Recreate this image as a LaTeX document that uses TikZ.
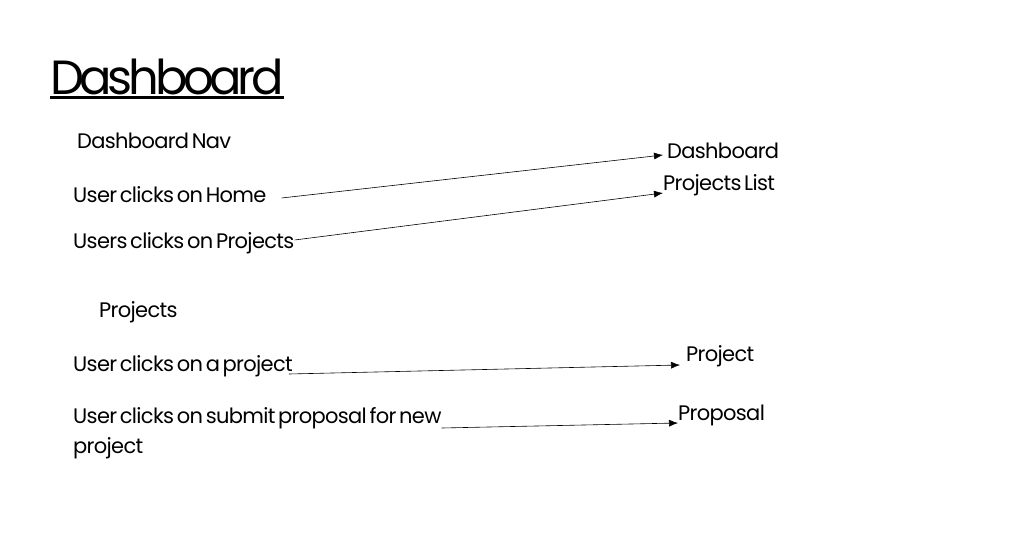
\documentclass[tikz,border=0pt]{standalone}
\usepackage{fontspec}
\setmainfont{Poppins}[LetterSpace=-3.2, WordSpace=0.55]
\newfontfamily\titlefont{Poppins}[LetterSpace=-9, WordSpace=0.55]
\usepackage{tikz}
\usetikzlibrary{positioning, arrows.meta, calc}

\begin{document}
\begin{tikzpicture}[
      x=1pt, y=-1pt,
      title/.style={
        anchor=west,
        inner sep=0pt,
        font=\titlefont\fontsize{48}{60}\selectfont,
      },
      item/.style={
        anchor=west,
        inner sep=0pt,
        font=\fontsize{21}{30}\selectfont,
        align=left,
      },
      link/.style={-{Latex[length=9pt,width=7pt]}, line width=0.6pt},
      ]
      \useasboundingbox (0,0) rectangle (1025,535);
      \node[title] (ttl) at (50,77) {Dashboard};
      \draw[line width=3pt] ([yshift=-2pt]ttl.south west) -- ([yshift=-2pt]ttl.south east);
      % dashboard nav
      \node[item] (nav) at (77,141) {Dashboard Nav};
      \node[item] (home) at (73,195) {User clicks on Home};
      \node[item] (prjs) at (73,243) {Users clicks on Projects};
      \node[item] (dash) at (667,151) {Dashboard};
      \node[item] (list) at (663,185) {Projects List};
      % projects
      \node[item] (proj) at (99,312) {Projects};
      \node[item] (one) at (73,366) {User clicks on a project};
      \node[item, anchor=north west] (prop) at (73,407) {User clicks on submit proposal for new\\project};
      \node[item] (pone) at (686,356) {Project};
      \node[item] (pnew) at (678,415) {Proposal};
      \draw[link] ($(home.east)+(15,3)$) -- ($(dash.west)+(-4,4)$);
      \draw[link] ($(prjs.east)+(0,-3)$) -- ($(list.west)+(0,8)$);
      \draw[link] ($(one.east)+(-4,8)$) -- ($(pone.west)+(-6,9)$);
      \draw[link] ($(prop.north east)+(0,21)$) -- ($(pnew.west)+(0,8)$);
    \end{tikzpicture}
\end{document}
